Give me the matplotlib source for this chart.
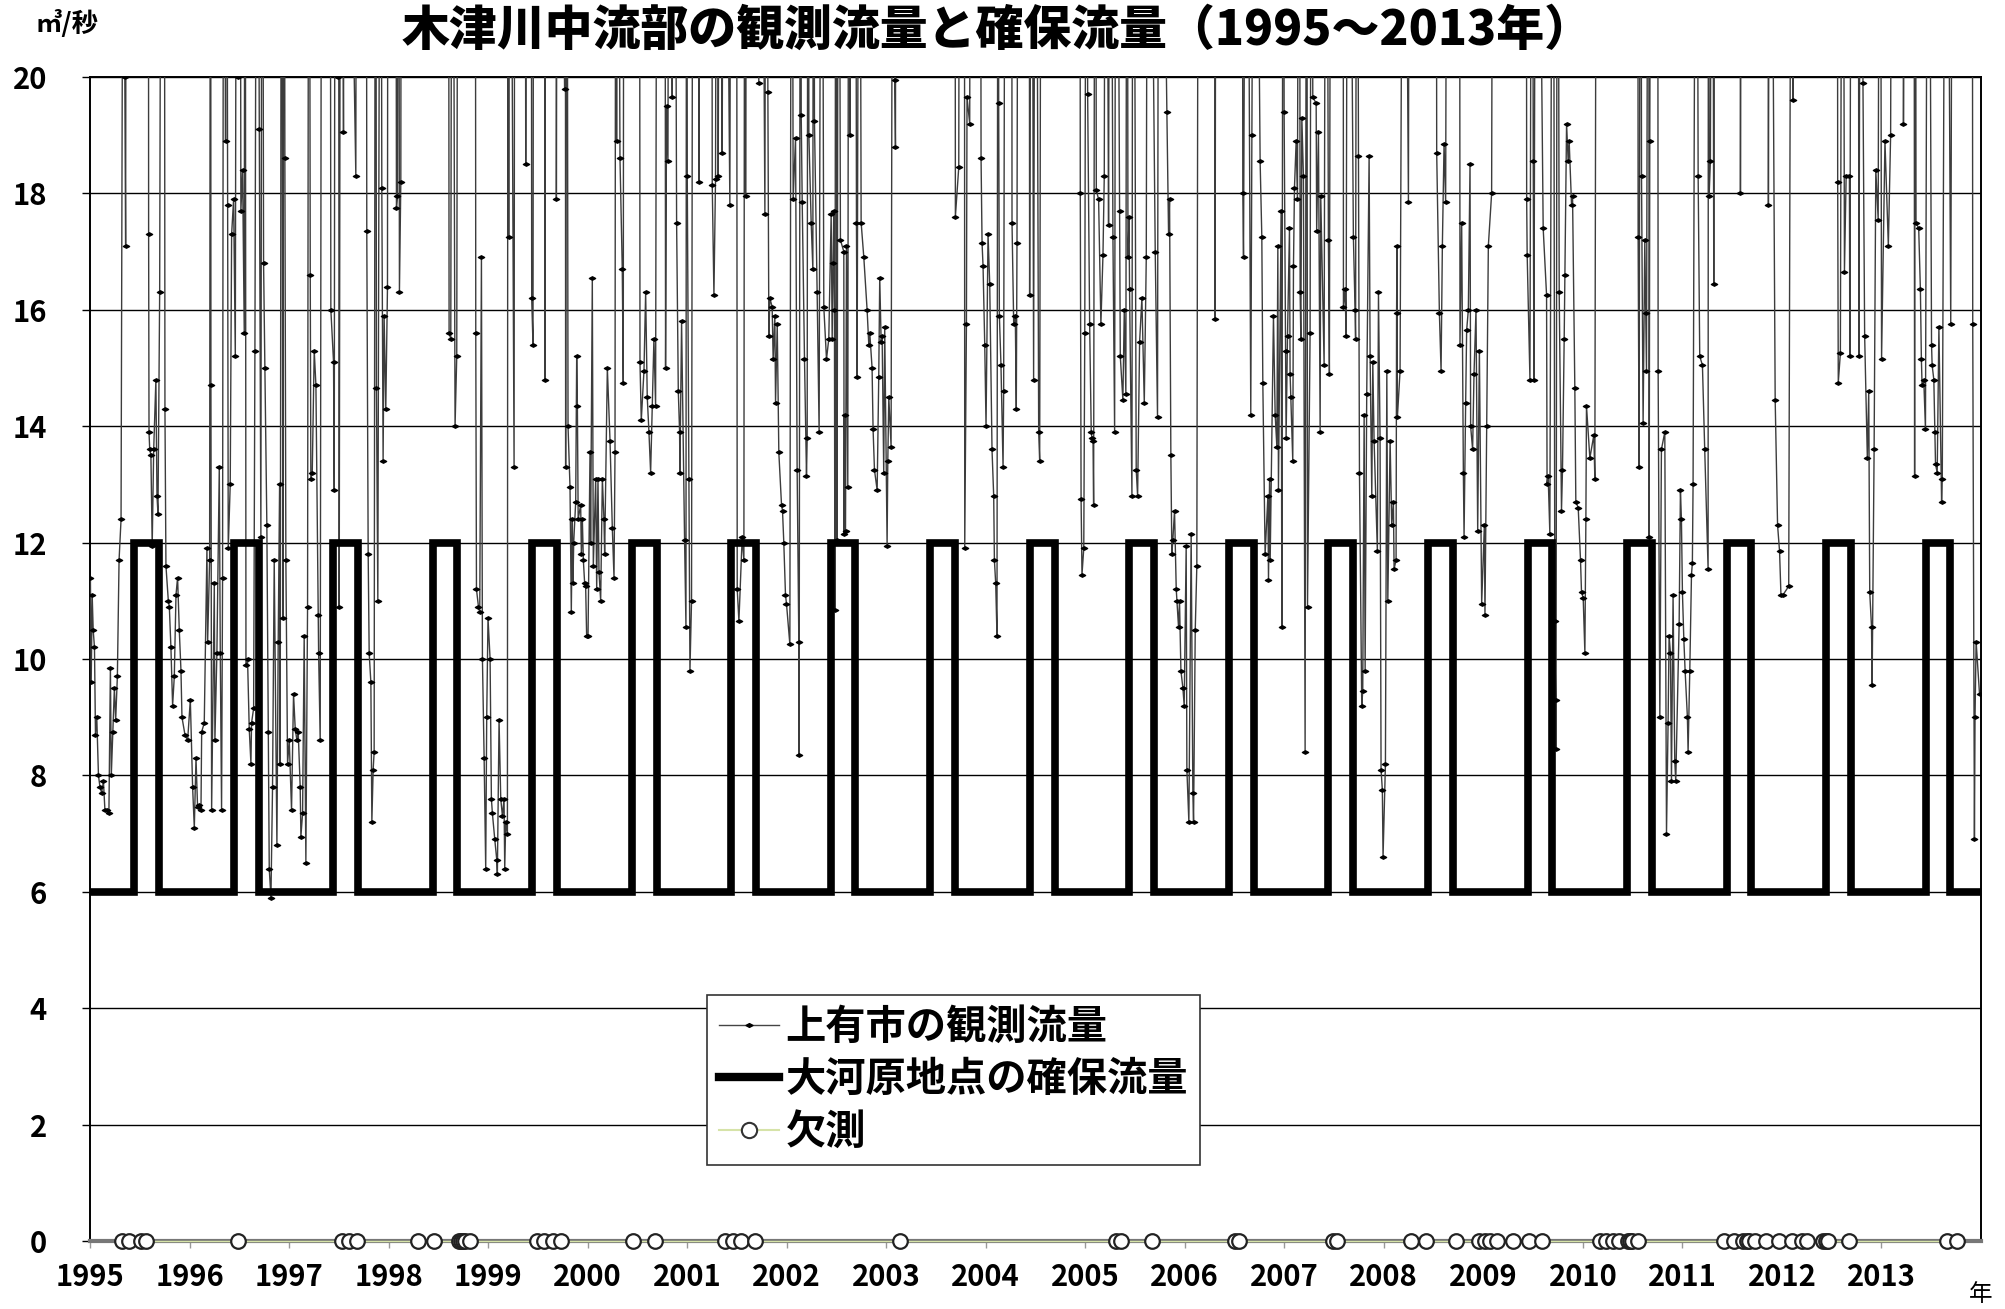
import numpy as np
import matplotlib.pyplot as plt
from matplotlib.path import Path
from matplotlib.lines import Line2D

plt.rcParams['font.family'] = ['Noto Sans CJK JP', 'DejaVu Sans']

# 上有市の観測流量 (m3/s)  (年, 流量)  20を超える日は 30 として置く
q1995 = [(1995.004, 11.4), (1995.012, 9.6), (1995.022, 11.1), (1995.032, 10.5), (1995.045, 10.2),
         (1995.055, 8.7), (1995.068, 9.0), (1995.085, 8.0), (1995.100, 7.8), (1995.117, 7.7),
         (1995.135, 7.9), (1995.150, 7.4), (1995.171, 7.4), (1995.190, 7.35), (1995.205, 9.85),
         (1995.214, 8.0), (1995.230, 8.75), (1995.245, 9.5), (1995.258, 8.95), (1995.275, 9.7),
         (1995.292, 11.7), (1995.312, 12.4), (1995.340, 30), (1995.350, 20.0), (1995.358, 17.1),
         (1995.366, 30), (1995.586, 30), (1995.589, 17.3), (1995.593, 13.9), (1995.600, 13.6),
         (1995.612, 13.5), (1995.625, 11.95), (1995.640, 13.6), (1995.662, 14.8), (1995.673, 12.8),
         (1995.683, 12.5), (1995.700, 16.3), (1995.720, 30), (1995.745, 30), (1995.753, 14.3),
         (1995.763, 11.6), (1995.787, 11.0), (1995.797, 10.9), (1995.813, 10.2), (1995.830, 9.2),
         (1995.847, 9.7), (1995.864, 11.1), (1995.880, 11.4), (1995.897, 10.5), (1995.914, 9.8),
         (1995.924, 9.0), (1995.954, 8.7), (1995.981, 8.6)]
q1996 = [(1996.008, 9.3), (1996.031, 7.8), (1996.048, 7.1), (1996.065, 8.3), (1996.081, 7.45),
         (1996.098, 7.5), (1996.115, 7.4), (1996.122, 8.75), (1996.148, 8.9), (1996.175, 11.9),
         (1996.182, 10.3), (1996.202, 11.7), (1996.212, 30), (1996.215, 14.7), (1996.222, 7.4),
         (1996.249, 11.3), (1996.255, 8.6), (1996.275, 10.1), (1996.299, 13.3), (1996.309, 10.1),
         (1996.322, 7.4), (1996.332, 11.4), (1996.345, 30), (1996.362, 18.9), (1996.370, 30),
         (1996.383, 17.8), (1996.389, 11.9), (1996.409, 13.0), (1996.423, 17.3), (1996.443, 17.9),
         (1996.460, 15.2), (1996.475, 30), (1996.490, 20.0), (1996.505, 30), (1996.516, 17.7),
         (1996.533, 18.4), (1996.550, 15.6), (1996.558, 30), (1996.567, 9.9), (1996.583, 10.0),
         (1996.600, 8.8), (1996.617, 8.2), (1996.623, 8.9), (1996.644, 9.15), (1996.657, 15.3),
         (1996.680, 30), (1996.701, 19.1), (1996.717, 12.1), (1996.730, 30), (1996.744, 16.8),
         (1996.757, 15.0), (1996.777, 12.3), (1996.791, 8.75), (1996.801, 6.4), (1996.818, 5.9),
         (1996.834, 7.8), (1996.851, 11.7), (1996.878, 6.8), (1996.891, 10.3), (1996.905, 13.0),
         (1996.911, 8.2), (1996.925, 30), (1996.938, 10.7), (1996.950, 30), (1996.958, 18.6),
         (1996.968, 11.7), (1996.985, 8.2)]
q1997 = [(1997.002, 8.6), (1997.025, 7.4), (1997.045, 9.4), (1997.062, 8.8), (1997.079, 8.6),
         (1997.092, 8.75), (1997.112, 7.8), (1997.119, 6.95), (1997.136, 7.35), (1997.152, 10.4),
         (1997.169, 6.5), (1997.186, 10.9), (1997.200, 30), (1997.213, 16.6), (1997.219, 13.1),
         (1997.233, 13.2), (1997.253, 15.3), (1997.270, 14.7), (1997.293, 10.75), (1997.297, 10.1),
         (1997.313, 8.6), (1997.330, 30), (1997.410, 30), (1997.420, 16.0), (1997.447, 15.1),
         (1997.454, 12.9), (1997.465, 30), (1997.487, 20.0), (1997.495, 30), (1997.504, 10.9),
         (1997.520, 30), (1997.547, 19.05), (1997.560, 30), (1997.671, 18.3), (1997.680, 30),
         (1997.775, 30), (1997.781, 17.35), (1997.795, 11.8), (1997.805, 10.1), (1997.822, 9.6),
         (1997.832, 7.2), (1997.845, 8.1), (1997.855, 8.4), (1997.870, 30), (1997.878, 14.65),
         (1997.892, 11.0), (1997.920, 30), (1997.932, 18.1), (1997.945, 13.4), (1997.955, 15.9),
         (1997.972, 14.3), (1997.989, 16.4), (1997.995, 30)]
q1998 = [(1998.070, 30), (1998.079, 17.75), (1998.089, 17.95), (1998.100, 30), (1998.109, 16.3),
         (1998.123, 18.2), (1998.130, 30), (1998.600, 30), (1998.608, 15.6), (1998.625, 15.5),
         (1998.640, 30), (1998.668, 14.0), (1998.685, 15.2), (1998.700, 30), (1998.870, 30),
         (1998.876, 15.6), (1998.883, 11.2), (1998.903, 10.9), (1998.916, 10.8), (1998.933, 16.9),
         (1998.943, 10.0), (1998.960, 8.3), (1998.976, 6.4), (1998.986, 9.0), (1998.999, 10.7)]
q1999 = [(1999.020, 10.0), (1999.033, 7.6), (1999.043, 7.35), (1999.067, 6.9), (1999.087, 6.55),
         (1999.093, 6.3), (1999.110, 8.95), (1999.127, 7.6), (1999.144, 7.3), (1999.160, 7.6),
         (1999.167, 6.4), (1999.177, 7.2), (1999.194, 7.0), (1999.200, 30), (1999.207, 17.25),
         (1999.215, 30), (1999.261, 13.3), (1999.270, 30), (1999.370, 30), (1999.378, 18.5),
         (1999.390, 30), (1999.432, 30), (1999.438, 16.2), (1999.451, 15.4), (1999.460, 30),
         (1999.565, 30), (1999.572, 14.8), (1999.580, 30), (1999.680, 30), (1999.686, 17.9),
         (1999.700, 30), (1999.769, 19.8), (1999.775, 30), (1999.779, 13.3), (1999.790, 30),
         (1999.803, 14.0), (1999.823, 12.95), (1999.836, 10.8), (1999.846, 12.4), (1999.853, 11.3),
         (1999.860, 12.0), (1999.880, 12.7), (1999.890, 15.2), (1999.897, 14.35), (1999.905, 12.4),
         (1999.930, 12.65), (1999.937, 11.8), (1999.947, 12.4), (1999.957, 11.7), (1999.970, 11.3),
         (1999.980, 11.25), (1999.990, 10.4)]
q2000 = [(2000.004, 10.4), (2000.024, 13.55), (2000.030, 12.0), (2000.047, 16.55), (2000.057, 11.6),
         (2000.081, 13.1), (2000.091, 11.2), (2000.104, 13.1), (2000.114, 11.5), (2000.131, 11.0),
         (2000.148, 13.1), (2000.164, 12.4), (2000.171, 11.8), (2000.198, 15.0), (2000.225, 13.75),
         (2000.248, 12.25), (2000.265, 11.4), (2000.275, 13.55), (2000.285, 30), (2000.291, 18.9),
         (2000.300, 30), (2000.325, 18.6), (2000.348, 16.7), (2000.358, 14.75), (2000.365, 30),
         (2000.520, 30), (2000.526, 15.1), (2000.539, 14.1), (2000.566, 14.95), (2000.583, 16.3),
         (2000.599, 14.5), (2000.616, 13.9), (2000.633, 13.2), (2000.650, 14.35), (2000.666, 15.5),
         (2000.683, 14.35), (2000.700, 30), (2000.775, 30), (2000.783, 15.0), (2000.793, 19.5),
         (2000.807, 18.55), (2000.820, 30), (2000.850, 19.65), (2000.870, 30), (2000.894, 17.5),
         (2000.911, 14.6), (2000.924, 13.9), (2000.927, 13.2), (2000.944, 15.8), (2000.974, 12.05),
         (2000.988, 10.55), (2000.995, 30)]
q2001 = [(2001.001, 18.3), (2001.018, 13.1), (2001.028, 9.8), (2001.044, 11.0), (2001.060, 30),
         (2001.110, 30), (2001.118, 18.2), (2001.125, 30), (2001.245, 30), (2001.252, 18.15),
         (2001.269, 16.25), (2001.285, 18.25), (2001.300, 30), (2001.312, 18.3), (2001.330, 30),
         (2001.352, 18.7), (2001.370, 30), (2001.429, 17.8), (2001.445, 30), (2001.495, 30),
         (2001.503, 11.2), (2001.520, 10.65), (2001.553, 12.1), (2001.570, 11.7), (2001.580, 30),
         (2001.587, 17.95), (2001.600, 30), (2001.720, 19.9), (2001.740, 30), (2001.781, 17.65),
         (2001.795, 30), (2001.811, 19.75), (2001.821, 15.55), (2001.831, 16.2), (2001.854, 16.05),
         (2001.864, 15.15), (2001.881, 15.9), (2001.888, 14.4), (2001.905, 15.75), (2001.921, 13.55),
         (2001.948, 12.65), (2001.958, 12.55), (2001.971, 12.0), (2001.988, 11.1), (2001.998, 10.95)]
q2002 = [(2002.032, 10.25), (2002.050, 30), (2002.065, 17.9), (2002.089, 18.95), (2002.105, 13.25),
         (2002.122, 10.3), (2002.125, 8.35), (2002.140, 30), (2002.146, 19.35), (2002.156, 17.85),
         (2002.179, 15.15), (2002.199, 13.15), (2002.206, 13.8), (2002.215, 30), (2002.223, 19.0),
         (2002.246, 17.5), (2002.263, 16.7), (2002.270, 30), (2002.279, 19.25), (2002.306, 16.3),
         (2002.326, 13.9), (2002.350, 30), (2002.373, 16.05), (2002.400, 15.15), (2002.423, 15.5),
         (2002.447, 17.65), (2002.457, 15.5), (2002.467, 16.8), (2002.473, 17.7), (2002.480, 16.0),
         (2002.484, 10.85), (2002.495, 30), (2002.507, 12.05), (2002.520, 30), (2002.540, 17.2),
         (2002.574, 17.0), (2002.577, 12.15), (2002.581, 14.2), (2002.591, 12.2), (2002.601, 17.1),
         (2002.614, 12.95), (2002.625, 30), (2002.634, 19.0), (2002.690, 30), (2002.701, 17.5),
         (2002.708, 14.85), (2002.730, 30), (2002.748, 17.5), (2002.775, 16.9), (2002.808, 16.0),
         (2002.825, 15.4), (2002.835, 15.6), (2002.858, 15.0), (2002.868, 13.95), (2002.882, 13.25),
         (2002.909, 12.9), (2002.925, 14.85), (2002.935, 16.55), (2002.949, 15.45), (2002.959, 15.55),
         (2002.975, 13.2), (2002.985, 15.7)]
q2003 = [(2003.009, 11.95), (2003.016, 13.4), (2003.026, 14.5), (2003.049, 13.65), (2003.070, 30),
         (2003.086, 19.95), (2003.093, 18.8), (2003.100, 30), (2003.690, 30), (2003.695, 17.6),
         (2003.729, 18.45), (2003.740, 30), (2003.785, 30), (2003.789, 11.9), (2003.806, 15.75),
         (2003.812, 19.65), (2003.839, 19.2), (2003.850, 30), (2003.945, 30), (2003.953, 18.6),
         (2003.963, 17.15), (2003.973, 16.75), (2003.990, 15.4)]
q2004 = [(2004.003, 14.0), (2004.023, 17.3), (2004.040, 16.45), (2004.063, 13.6), (2004.080, 12.8),
         (2004.087, 11.7), (2004.100, 11.3), (2004.113, 10.4), (2004.125, 30), (2004.130, 19.55),
         (2004.137, 15.9), (2004.153, 15.05), (2004.174, 13.3), (2004.180, 14.6), (2004.200, 30),
         (2004.260, 30), (2004.264, 17.5), (2004.281, 15.75), (2004.297, 15.9), (2004.307, 14.3),
         (2004.314, 17.15), (2004.330, 30), (2004.435, 30), (2004.441, 16.25), (2004.460, 30),
         (2004.481, 14.8), (2004.500, 30), (2004.532, 13.9), (2004.542, 13.4), (2004.560, 30),
         (2004.945, 30), (2004.950, 18.0), (2004.958, 12.75), (2004.967, 11.45), (2004.985, 11.9),
         (2004.995, 15.6)]
q2005 = [(2005.015, 30), (2005.024, 19.7), (2005.044, 15.75), (2005.060, 13.9), (2005.067, 13.8),
         (2005.078, 13.75), (2005.084, 12.65), (2005.100, 30), (2005.111, 18.05), (2005.134, 17.9),
         (2005.157, 15.75), (2005.178, 16.95), (2005.191, 18.3), (2005.205, 30), (2005.234, 17.45),
         (2005.250, 30), (2005.278, 17.25), (2005.295, 13.9), (2005.310, 30), (2005.345, 17.7),
         (2005.352, 15.2), (2005.378, 14.45), (2005.392, 16.0), (2005.408, 14.55), (2005.420, 30),
         (2005.429, 16.9), (2005.440, 17.6), (2005.445, 16.35), (2005.469, 12.8), (2005.480, 30),
         (2005.512, 13.25), (2005.526, 12.8), (2005.546, 15.45), (2005.569, 16.2), (2005.593, 14.4),
         (2005.613, 16.9), (2005.630, 30), (2005.703, 17.0), (2005.726, 14.15), (2005.740, 30),
         (2005.820, 19.4), (2005.837, 17.3), (2005.847, 17.9), (2005.860, 13.5), (2005.870, 11.8),
         (2005.880, 12.05), (2005.897, 12.55), (2005.914, 11.2), (2005.921, 11.0), (2005.937, 10.55),
         (2005.947, 11.0), (2005.961, 9.8), (2005.981, 9.5), (2005.994, 9.2)]
q2006 = [(2006.014, 11.95), (2006.021, 8.1), (2006.041, 7.2), (2006.064, 12.15), (2006.081, 7.7),
         (2006.088, 7.2), (2006.105, 10.5), (2006.121, 11.6), (2006.140, 30), (2006.300, 30),
         (2006.305, 15.85), (2006.315, 30), (2006.575, 30), (2006.583, 18.0), (2006.590, 16.9),
         (2006.620, 30), (2006.663, 14.2), (2006.674, 19.0), (2006.700, 30), (2006.757, 18.55),
         (2006.774, 17.25), (2006.784, 14.75), (2006.807, 11.8), (2006.835, 12.8), (2006.841, 11.35),
         (2006.852, 13.1), (2006.858, 11.7), (2006.891, 15.9), (2006.908, 14.2), (2006.925, 13.65),
         (2006.935, 17.1), (2006.941, 12.9), (2006.968, 17.7), (2006.975, 10.55), (2006.990, 30),
         (2006.998, 19.4)]
q2007 = [(2007.012, 15.3), (2007.018, 13.8), (2007.032, 15.55), (2007.052, 17.4), (2007.058, 14.9),
         (2007.065, 14.5), (2007.085, 13.4), (2007.092, 16.75), (2007.102, 18.1), (2007.119, 18.9),
         (2007.132, 17.9), (2007.150, 30), (2007.159, 16.3), (2007.166, 15.5), (2007.176, 19.3),
         (2007.192, 18.3), (2007.209, 8.4), (2007.225, 30), (2007.233, 10.9), (2007.259, 15.6),
         (2007.275, 30), (2007.286, 19.65), (2007.320, 19.55), (2007.325, 17.35), (2007.343, 19.05),
         (2007.360, 13.9), (2007.366, 17.95), (2007.400, 15.05), (2007.420, 30), (2007.443, 17.2),
         (2007.453, 14.9), (2007.470, 30), (2007.590, 30), (2007.594, 16.05), (2007.611, 16.35),
         (2007.621, 15.55), (2007.640, 30), (2007.694, 17.25), (2007.711, 16.0), (2007.716, 15.5),
         (2007.730, 30), (2007.745, 18.65), (2007.755, 13.2), (2007.778, 9.2), (2007.788, 9.45),
         (2007.802, 14.2), (2007.812, 9.8), (2007.828, 14.55), (2007.852, 18.65), (2007.862, 15.2),
         (2007.879, 12.8), (2007.889, 15.1), (2007.902, 13.75), (2007.935, 11.85), (2007.946, 16.3),
         (2007.962, 13.8), (2007.972, 8.1), (2007.985, 7.75), (2007.992, 6.6)]
q2008 = [(2008.016, 8.2), (2008.030, 14.95), (2008.040, 11.0), (2008.063, 13.75), (2008.079, 12.3),
         (2008.096, 12.7), (2008.103, 11.55), (2008.123, 11.7), (2008.128, 15.95), (2008.132, 17.1),
         (2008.136, 14.15), (2008.163, 14.95), (2008.200, 30), (2008.247, 17.85), (2008.260, 30),
         (2008.525, 30), (2008.531, 18.7), (2008.558, 15.95), (2008.575, 14.95), (2008.588, 17.1),
         (2008.605, 18.85), (2008.621, 17.85), (2008.640, 30), (2008.760, 30), (2008.765, 15.4),
         (2008.782, 17.5), (2008.799, 13.2), (2008.806, 12.1), (2008.822, 14.4), (2008.832, 15.65),
         (2008.849, 16.0), (2008.866, 18.5), (2008.872, 14.0), (2008.892, 13.6), (2008.906, 14.9),
         (2008.926, 16.0), (2008.943, 12.2), (2008.960, 15.3), (2008.983, 10.95)]
q2009 = [(2009.010, 12.3), (2009.016, 10.75), (2009.033, 14.0), (2009.050, 17.1), (2009.083, 18.0),
         (2009.100, 30), (2009.430, 30), (2009.435, 17.9), (2009.440, 16.95), (2009.468, 14.8),
         (2009.490, 30), (2009.501, 18.55), (2009.508, 14.8), (2009.530, 30), (2009.601, 17.4),
         (2009.635, 16.25), (2009.640, 13.0), (2009.651, 13.15), (2009.668, 12.15), (2009.700, 30),
         (2009.718, 10.65), (2009.725, 9.3), (2009.730, 8.45), (2009.745, 30), (2009.762, 16.3),
         (2009.785, 12.55), (2009.795, 13.25), (2009.812, 15.5), (2009.819, 16.6), (2009.836, 19.2),
         (2009.852, 18.55), (2009.862, 18.9), (2009.886, 17.8), (2009.896, 17.95), (2009.919, 14.65),
         (2009.929, 12.7), (2009.953, 12.6), (2009.976, 11.7), (2009.986, 11.15)]
q2010 = [(2010.003, 11.05), (2010.020, 10.1), (2010.030, 12.4), (2010.036, 14.35), (2010.070, 13.45),
         (2010.110, 13.85), (2010.120, 13.1), (2010.140, 30), (2010.550, 30), (2010.555, 17.25),
         (2010.565, 13.3), (2010.580, 30), (2010.589, 18.3), (2010.605, 14.05), (2010.622, 17.2),
         (2010.632, 15.95), (2010.639, 14.95), (2010.660, 30), (2010.666, 12.1), (2010.672, 18.9),
         (2010.690, 30), (2010.750, 30), (2010.756, 14.95), (2010.773, 9.0), (2010.789, 13.6),
         (2010.823, 13.9), (2010.840, 7.0), (2010.856, 8.9), (2010.866, 10.4), (2010.880, 10.1),
         (2010.890, 7.9), (2010.906, 11.1), (2010.923, 8.25), (2010.933, 7.9), (2010.967, 10.6),
         (2010.980, 12.9), (2010.990, 12.4)]
q2011 = [(2011.000, 11.15), (2011.014, 10.35), (2011.027, 9.8), (2011.050, 9.0), (2011.057, 8.4),
         (2011.074, 9.8), (2011.091, 11.45), (2011.100, 11.65), (2011.107, 13.0), (2011.140, 30),
         (2011.158, 18.3), (2011.174, 15.2), (2011.201, 15.05), (2011.224, 13.6), (2011.258, 11.55),
         (2011.262, 30), (2011.268, 17.95), (2011.281, 18.55), (2011.300, 30), (2011.315, 16.45),
         (2011.330, 30), (2011.575, 30), (2011.583, 18.0), (2011.600, 30), (2011.855, 30),
         (2011.864, 17.8), (2011.880, 30), (2011.932, 14.45), (2011.956, 12.3), (2011.976, 11.85),
         (2011.990, 11.1)]
q2012 = [(2012.010, 11.1), (2012.068, 11.25), (2012.100, 30), (2012.112, 19.6), (2012.130, 30),
         (2012.555, 30), (2012.560, 18.2), (2012.566, 14.75), (2012.587, 15.25), (2012.610, 30),
         (2012.628, 16.65), (2012.645, 18.3), (2012.678, 18.3), (2012.682, 15.2), (2012.700, 30),
         (2012.765, 30), (2012.773, 15.2), (2012.795, 30), (2012.814, 19.9), (2012.831, 15.55),
         (2012.858, 13.45), (2012.872, 14.6), (2012.882, 11.15), (2012.900, 10.55), (2012.906, 9.55),
         (2012.926, 13.6), (2012.943, 18.4), (2012.967, 17.55), (2012.985, 30)]
q2013 = [(2013.001, 15.15), (2013.035, 18.9), (2013.069, 17.1), (2013.092, 19.0), (2013.110, 30),
         (2013.215, 30), (2013.221, 19.2), (2013.240, 30), (2013.325, 30), (2013.333, 13.15),
         (2013.340, 30), (2013.347, 17.5), (2013.374, 17.4), (2013.391, 16.35), (2013.401, 15.15),
         (2013.408, 14.7), (2013.425, 14.8), (2013.442, 13.95), (2013.470, 30), (2013.503, 15.4),
         (2013.509, 15.05), (2013.526, 14.8), (2013.537, 13.9), (2013.543, 13.35), (2013.560, 13.2),
         (2013.577, 15.7), (2013.604, 12.7), (2013.611, 13.1), (2013.650, 30), (2013.696, 15.75),
         (2013.720, 30), (2013.910, 30), (2013.917, 15.75), (2013.934, 6.9), (2013.940, 9.0),
         (2013.951, 10.3), (2013.985, 9.4)]

# 欠測日 (年)
kesoku = [1995.32, 1995.39, 1995.51, 1995.56, 1996.49, 1997.53, 1997.60, 1997.68,
          1998.30, 1998.46, 1998.71, 1998.73, 1998.75, 1998.77, 1998.82,
          1999.49, 1999.56, 1999.65, 1999.73, 2000.46, 2000.68,
          2001.38, 2001.46, 2001.54, 2001.68, 2003.14, 2005.31, 2005.36, 2005.67,
          2006.50, 2006.54, 2007.49, 2007.53, 2008.27, 2008.42, 2008.72, 2008.96,
          2009.02, 2009.07, 2009.14, 2009.30, 2009.46, 2009.59,
          2010.17, 2010.23, 2010.30, 2010.36, 2010.45, 2010.47, 2010.49, 2010.55,
          2011.42, 2011.52, 2011.61, 2011.65, 2011.67, 2011.73, 2011.84, 2011.97,
          2012.10, 2012.20, 2012.25, 2012.41, 2012.44, 2012.46, 2012.67, 2013.66, 2013.76]

# 大河原地点の確保流量 (m3/s)
kakuho_years = list(range(1995, 2014))
kakuho_low = 6
kakuho_high = 12
high_from = "06-12"
high_to = "09-10"

years = list(range(1995, 2014))


def to_year(y, md):
    d = np.datetime64(f"{y}-{md}") - np.datetime64(f"{y}-01-01")
    return y + d.astype(int) / 365.0


obs = (q1995 + q1996 + q1997 + q1998 + q1999 + q2000 + q2001 + q2002 + q2003 + q2004
       + q2005 + q2006 + q2007 + q2008 + q2009 + q2010 + q2011 + q2012 + q2013)
obs_t = [p[0] for p in obs]
obs_q = [p[1] for p in obs]

kx, ky = [1995.0], [kakuho_low]
for y in kakuho_years:
    s, e = to_year(y, high_from), to_year(y, high_to)
    kx += [s, s, e, e]
    ky += [kakuho_low, kakuho_high, kakuho_high, kakuho_low]
kx.append(2014.0)
ky.append(kakuho_low)

diamond = Path([(-1, 0), (0, 0.55), (1, 0), (0, -0.55), (-1, 0)],
               [Path.MOVETO, Path.LINETO, Path.LINETO, Path.LINETO, Path.CLOSEPOLY])

fig = plt.figure(figsize=(20.06, 13.09), dpi=100)
ax = fig.add_axes([90 / 2006, 68 / 1309, (1981 - 90) / 2006, 1164 / 1309])

ax.plot(obs_t, obs_q, color='#3c3c3c', lw=1.0, marker=diamond, ms=4.5,
        mfc='black', mec='black', zorder=3)
ax.plot(kx, ky, color='black', lw=5.5, solid_joinstyle='miter', zorder=4)
ax.plot(kesoku, [0] * len(kesoku), color='#d6e3a8', lw=1, marker='o', ms=10.5,
        mfc='white', mec='#222222', mew=1.6, zorder=6, clip_on=False)

ax.set_xlim(1995, 2014)
ax.set_ylim(0, 20)
ax.set_yticks(range(0, 21, 2))
ax.set_xticks(years)
ax.set_xticklabels([str(y) for y in years])
ax.yaxis.grid(True, color='black', lw=1.0)
ax.set_axisbelow(True)

for side in ['left', 'right', 'top']:
    ax.spines[side].set_color('black')
    ax.spines[side].set_linewidth(1.4)
ax.spines['bottom'].set_color('#777777')
ax.spines['bottom'].set_linewidth(3)

ax.tick_params(axis='y', direction='out', length=6, width=1, color='black',
               pad=25, labelsize=21)
ax.tick_params(axis='x', direction='out', length=5, width=1, color='#999999',
               pad=10, labelsize=21)
for lab in ax.get_xticklabels() + ax.get_yticklabels():
    lab.set_fontweight('bold')

fig.text(0.497, 0.977, '木津川中流部の観測流量と確保流量（1995～2013年）',
         ha='center', va='center', fontsize=34.5, fontweight='heavy')
fig.text(0.0175, 0.982, '㎥/秒', ha='left', va='center', fontsize=19, fontweight='bold')
fig.text(0.9875, 0.011, '年', ha='center', va='center', fontsize=17)

handles = [
    Line2D([], [], color='#444444', lw=1, marker=diamond, ms=5, mfc='black', mec='black'),
    Line2D([], [], color='black', lw=6),
    Line2D([], [], color='#d6e3a8', lw=1.5, marker='o', ms=11, mfc='white',
           mec='#333333', mew=1.5),
]
labels = ['上有市の観測流量', '大河原地点の確保流量', '欠測']
leg = fig.legend(handles, labels, loc='upper left', bbox_to_anchor=(0.3524, 0.2399),
                 bbox_transform=fig.transFigure, prop={'size': 29, 'weight': 'bold'},
                 frameon=True, fancybox=False, edgecolor='#333333', framealpha=1,
                 handlelength=1.5, handletextpad=0.15, labelspacing=0.28,
                 borderpad=0.3, borderaxespad=0)
leg.get_frame().set_linewidth(1.2)

fig.savefig('out.png', dpi=100)
